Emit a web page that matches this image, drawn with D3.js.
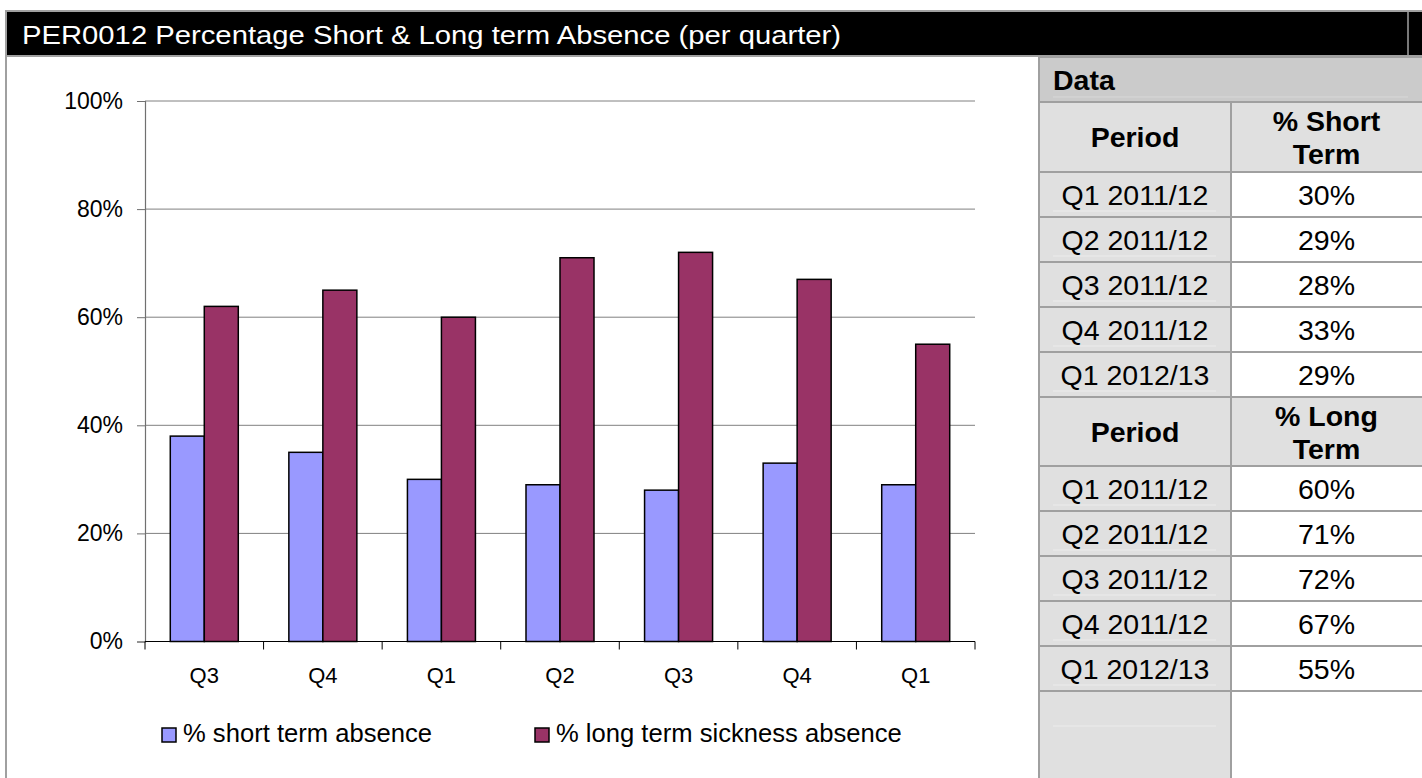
<!DOCTYPE html>
<html><head><meta charset="utf-8">
<script src="https://cdn.jsdelivr.net/npm/d3@7"></script>
<style>
html,body{margin:0;padding:0;background:#fff;}
svg{display:block;font-family:"Liberation Sans",Arial,sans-serif;}
</style></head>
<body>
<svg id="c" width="1422" height="778"></svg>
<script>
// ---- data ----
const titleText = "PER0012 Percentage Short & Long term Absence (per quarter)";
const categories = ["Q3","Q4","Q1","Q2","Q3","Q4","Q1"];
const shortTerm = [38,35,30,29,28,33,29];
const longTerm  = [62,65,60,71,72,67,55];
const seriesNames = ["% short term absence","% long term sickness absence"];
const yTicks = [0,20,40,60,80,100];
const tablePeriods = ["Q1 2011/12","Q2 2011/12","Q3 2011/12","Q4 2011/12","Q1 2012/13"];
const tableShort = [30,29,28,33,29];
const tableLong  = [60,71,72,67,55];

const colors = ["#9999FF","#993366"];
const svg = d3.select("#c");
const gridCol = "#a0a0a0";

// ---- title bar ----
svg.append("rect").attr("x",6).attr("y",11).attr("width",1420).attr("height",45)
  .attr("fill","#000").attr("stroke",gridCol).attr("stroke-width",2);
svg.append("line").attr("x1",1408).attr("x2",1408).attr("y1",11).attr("y2",56)
  .attr("stroke",gridCol).attr("stroke-width",1.5);
svg.append("text").attr("x",22).attr("y",44).attr("fill","#fff")
  .attr("font-size",26).attr("textLength",819).attr("lengthAdjust","spacingAndGlyphs")
  .text(titleText);
svg.append("line").attr("x1",6).attr("x2",6).attr("y1",56).attr("y2",778)
  .attr("stroke",gridCol).attr("stroke-width",2);

// ---- chart ----
const x0 = 145, x1 = 975, yTop = 101, yBot = 641.5;
const y = d3.scaleLinear().domain([0,100]).range([yBot,yTop]);
const idx = categories.map((d,i)=>i);
const x = d3.scaleBand().domain(idx).range([x0,x1]).paddingInner(0.4265).paddingOuter(0.4265/2);
const xs = d3.scaleBand().domain([0,1]).range([0,x.bandwidth()]);

const g = svg.append("g");
// gridlines
g.selectAll("line.grid").data(yTicks.filter(t=>t>0)).join("line")
  .attr("x1",x0).attr("x2",x1).attr("y1",d=>y(d)).attr("y2",d=>y(d))
  .attr("stroke","#808080").attr("stroke-width",1);

// y axis
const yAxis = d3.axisLeft(y).tickValues(yTicks).tickFormat(d=>d+"%").tickSize(8).tickPadding(14);
const ya = g.append("g").attr("transform",`translate(${x0},0)`).call(yAxis);
ya.select(".domain").attr("stroke","#707070").attr("stroke-width",1.2);
ya.selectAll(".tick line").attr("stroke","#707070");
ya.selectAll("text").attr("font-size",23).attr("fill","#000")
  .attr("font-family","'Liberation Sans',Arial,sans-serif");

// bars
const series = [shortTerm,longTerm];
series.forEach((vals,s)=>{
  g.selectAll("rect.s"+s).data(vals).join("rect")
    .attr("x",(d,i)=>x(i)+xs(s)).attr("width",xs.bandwidth())
    .attr("y",d=>y(d)).attr("height",d=>y(0)-y(d))
    .attr("fill",colors[s]).attr("stroke","#000").attr("stroke-width",1.5);
});

// x axis
const xPos = d3.scaleLinear().domain([0,categories.length]).range([x0,x1]);
g.append("line").attr("x1",x0).attr("x2",x1).attr("y1",yBot).attr("y2",yBot)
  .attr("stroke","#000").attr("stroke-width",1.2);
g.selectAll("line.xt").data(d3.range(categories.length+1)).join("line")
  .attr("x1",d=>xPos(d)).attr("x2",d=>xPos(d)).attr("y1",yBot).attr("y2",yBot+8)
  .attr("stroke","#000").attr("stroke-width",1);
g.selectAll("text.xl").data(categories).join("text")
  .attr("x",(d,i)=>x(i)+x.bandwidth()/2).attr("y",683)
  .attr("text-anchor","middle").attr("font-size",22).text(d=>d);

// legend
const legX = [162,535];
seriesNames.forEach((n,s)=>{
  g.append("rect").attr("x",legX[s]).attr("y",728).attr("width",14).attr("height",14)
    .attr("fill",colors[s]).attr("stroke","#000").attr("stroke-width",1.5);
  g.append("text").attr("x",legX[s]+21).attr("y",742).attr("font-size",25.6).text(n);
});

// ---- data table ----
const tx = 1039, tDiv = 1231, tR = 1422;
const t = svg.append("g").attr("font-size",28.5);
const rowH = 45;
// Data row
t.append("rect").attr("x",tx).attr("y",57).attr("width",tR-tx).attr("height",45).attr("fill","#cbcbcb");
t.append("line").attr("x1",1053).attr("x2",1408).attr("y1",97).attr("y2",97).attr("stroke","#d8d8d8");
t.append("text").attr("x",1053).attr("y",90).attr("font-weight","bold").text("Data");

function block(top, headH, valueHead, vals){
  // header
  t.append("rect").attr("x",tx).attr("y",top).attr("width",tR-tx).attr("height",headH).attr("fill","#e0e0e0");
  t.append("text").attr("x",(tx+tDiv)/2).attr("y",top+headH/2+10).attr("text-anchor","middle")
    .attr("font-weight","bold").text("Period");
  t.append("text").attr("x",(tDiv+tR)/2).attr("y",top+headH/2-6).attr("text-anchor","middle")
    .attr("font-weight","bold").text(valueHead[0]);
  t.append("text").attr("x",(tDiv+tR)/2).attr("y",top+headH/2+27).attr("text-anchor","middle")
    .attr("font-weight","bold").text(valueHead[1]);
  const r0 = top+headH;
  t.selectAll(null).data(vals).join("rect")
    .attr("x",tx).attr("y",(d,i)=>r0+i*rowH).attr("width",tDiv-tx).attr("height",rowH).attr("fill","#e0e0e0");
  t.selectAll(null).data(vals).join("line")
    .attr("x1",1053).attr("x2",1216).attr("y1",(d,i)=>r0+i*rowH+rowH-6).attr("y2",(d,i)=>r0+i*rowH+rowH-6)
    .attr("stroke","#ececec");
  t.selectAll(null).data(vals).join("text")
    .attr("x",(tx+tDiv)/2).attr("y",(d,i)=>r0+i*rowH+33).attr("text-anchor","middle")
    .text((d,i)=>tablePeriods[i]);
  t.selectAll(null).data(vals).join("text")
    .attr("x",(tDiv+tR)/2).attr("y",(d,i)=>r0+i*rowH+33).attr("text-anchor","middle")
    .text(d=>d+"%");
  const lines = [top, r0].concat(vals.map((d,i)=>r0+(i+1)*rowH));
  return lines;
}
const l1 = block(102,70,["% Short","Term"],tableShort);
const l2 = block(397,69,["% Long","Term"],tableLong);
// filler area under table
const endY = l2[l2.length-1];
t.append("rect").attr("x",tx).attr("y",endY).attr("width",tDiv-tx).attr("height",778-endY).attr("fill","#e0e0e0");
t.append("line").attr("x1",1053).attr("x2",1216).attr("y1",endY+35).attr("y2",endY+35).attr("stroke","#ececec");
l1.concat(l2).forEach(yy=>{
  t.append("line").attr("x1",tx).attr("x2",tR).attr("y1",yy).attr("y2",yy)
    .attr("stroke",gridCol).attr("stroke-width",2);
});
t.append("line").attr("x1",tx).attr("x2",tR).attr("y1",57).attr("y2",57).attr("stroke",gridCol).attr("stroke-width",2);
t.append("line").attr("x1",tx).attr("x2",tx).attr("y1",57).attr("y2",778).attr("stroke",gridCol).attr("stroke-width",2);
t.append("line").attr("x1",tDiv).attr("x2",tDiv).attr("y1",102).attr("y2",778).attr("stroke",gridCol).attr("stroke-width",2);
</script>
</body></html>
